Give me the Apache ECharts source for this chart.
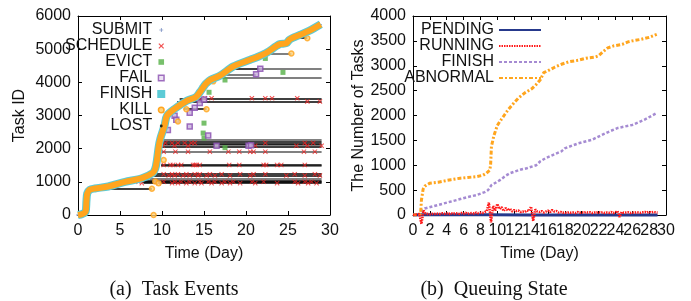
<!DOCTYPE html>
<html>
<head>
<meta charset="utf-8">
<script src="https://cdn.jsdelivr.net/npm/echarts@6/dist/echarts.min.js"></script>
<style>
  html, body { margin: 0; padding: 0; background: #fff; }
  #chart { width: 691px; height: 301px; }
</style>
</head>
<body>
<div id="chart"></div>
<script>
// ---- (a) Task Events ----
// main band: task id against submit day
const curveDay = [0, 0.5, 0.9, 1.0, 1.1, 1.4, 2, 3.6, 5.6, 7.6, 8.9, 9.2, 9.4, 9.6, 9.8, 10.3, 10.6, 11.5, 13, 14, 14.5, 15.2, 15.8, 16.9, 18.5, 20.5, 21.5, 22.5, 24, 24.8, 25.2, 26.4, 27.5, 28.9]
const curveId = [0, 30, 100, 400, 650, 760, 800, 860, 1000, 1110, 1270, 1400, 1660, 2050, 2300, 2700, 3000, 3200, 3450, 3550, 3700, 3950, 4080, 4200, 4480, 4680, 4780, 4900, 5150, 5180, 5290, 5430, 5550, 5750]

// horizontal task lifetimes: [start day, end day, task id]
const blackSegs = [
  [9.8, 29, 2200], [9.8, 29, 2160], [9.9, 29, 2060], [9.9, 29, 1510],
  [8.9, 29, 1230], [8.9, 29, 1190], [7.6, 29, 1020], [7.6, 29, 990], [7.8, 29, 960],
  [3.6, 8.8, 790], [17.5, 21.7, 4410], [26.3, 27.3, 5330], [12.6, 15.3, 3190],
  [12.1, 29, 3520], [11.8, 29, 3420]
]
const graySegs = [
  [10, 29, 2270], [9.9, 29, 2110], [9.5, 29, 1905], [9.9, 29, 1470], [8.5, 29, 1100],
  [21.7, 29, 4410], [17, 21.2, 4240], [15.5, 29, 4130], [22.9, 25.4, 4870]
]

const submitEvents = [[0.1, 0], [1.05, 500], [9.5, 1850], [14.8, 3900], [28.7, 5740]]
const scheduleEvents = [
  [9.8, 2170], [10.1, 2090], [10.4, 2170], [11.2, 2170], [11.5, 2090], [11.9, 2170], [12.7, 2170],
  [13.1, 2090], [13.5, 2170], [13.9, 2170], [21.1, 2090], [22.3, 2170], [26.0, 2090], [27.0, 2170],
  [27.3, 2090], [28.0, 2170], [29.0, 2090],
  [10.2, 1910], [11.6, 1910], [13.1, 1910], [15.7, 1910], [17.9, 1910], [19.2, 1910], [20.5, 1910],
  [20.9, 1910], [22.3, 1910], [26.9, 1910], [28.2, 1910],
  [10.2, 1510], [11.0, 1510], [11.3, 1510], [11.9, 1510], [12.3, 1510], [13.7, 1510], [13.9, 1510],
  [14.1, 1510], [14.5, 1510], [18.0, 1510], [19.2, 1510], [22.1, 1510], [22.4, 1510], [23.7, 1510],
  [24.2, 1510], [27.0, 1510],
  [10.2, 1230], [10.8, 1190], [11.2, 1230], [11.5, 1190], [11.9, 1230], [12.5, 1190], [12.9, 1230],
  [13.3, 1190], [13.9, 1230], [14.3, 1190], [14.5, 1230], [15.3, 1190], [15.7, 1230], [16.3, 1190],
  [17.1, 1230], [18.1, 1190], [19.3, 1230], [20.5, 1190], [20.9, 1230], [22.3, 1230], [24.8, 1190],
  [25.8, 1230], [27.0, 1190], [28.2, 1230], [28.8, 1190],
  [7.2, 1000], [7.6, 960], [9.2, 1000], [9.6, 960], [10.2, 1000], [11.2, 960], [11.5, 1000],
  [11.9, 960], [12.3, 1000], [12.9, 960], [13.3, 1000], [13.9, 960], [14.5, 1000], [14.7, 960],
  [15.5, 1000], [15.9, 960], [16.3, 1000], [17.1, 960], [17.5, 1000], [18.1, 960], [18.5, 1000],
  [19.3, 960], [20.7, 1000], [21.1, 960], [22.1, 1000], [23.7, 960], [25.8, 1000], [26.2, 960],
  [27.0, 1000], [27.4, 960], [27.8, 1000], [28.4, 960],
  [14.5, 3480], [15.1, 3520], [15.9, 3520], [20.7, 3520], [22.3, 3520], [23.1, 3520], [26.1, 3520],
  [27.3, 3420], [28.8, 3420]
]
const evictEvents = [[22.3, 4720], [24.4, 4300], [17.5, 4070], [15.6, 3700], [15.0, 2770], [14.9, 2470], [15.0, 2320], [17.5, 2030]]
const failEvents = [
  [21.7, 4410], [21.2, 4240], [13.3, 3080], [13.9, 3230], [14.5, 3380], [15.0, 3480], [13.3, 2670],
  [11.5, 2990], [11.7, 2870], [10.7, 2560], [15.5, 2400], [16.5, 2090], [20.3, 2090], [20.6, 2100]
]
const killEvents = [
  [8.8, 790], [9.0, 0], [9.2, 1010], [9.6, 960], [10.2, 1660], [11.9, 2820], [12.9, 3190],
  [15.3, 3190], [16.1, 4030], [25.4, 4870], [27.3, 5330]
]
const lostEvents = [[24.0, 5140]]

// ---- (b) Queuing State ----
// day labels split in two sets so neighbouring labels never hide each other
const dayLabelsB = [0, 4, 8, 12, 16, 20, 24, 28]
const dayLabelsBAlt = [2, 6, 10, 14, 18, 22, 26, 30]
const pendingState = [[0, 0], [1, 4], [9, 3], [14, 2], [29, 0]]
// running tasks sampled every 0.25 day from day 0
const runningVals = [
  0, 5, 10, 20, -180, 90, 30, 20, 15, 25, 20, 30, 25, 20, 35, 25,
  30, 20, 40, 25, 35, 30, 25, 40, 30, 45, 25, 35, 40, 30, 50, 35,
  45, 40, 60, 80, 250, -150, 180, 90, 220, 120, 160, 80, 140, 90, 130, 70,
  100, 80, 90, 60, 70, 60, 90, 80, 170, -120, 110, 70, 60, 80, 50, 70,
  90, 60, 100, 70, 80, 50, 60, 45, 50, 40, 55, 45, 50, 40, 60, 45,
  55, 45, 60, 50, 55, 40, 50, 45, 60, 45, 55, 40, 50, 45, 60, 40,
  55, 80, -40, 60, 45, 50, 55, 40, 50, 45, 55, 50, 45, 55, 60, 50,
  65, 50, 60, 55, 50
]
const finishState = [
  [0, 0], [0.9, 10], [1.0, 70], [1.4, 130], [2.5, 180], [3.6, 230], [4.5, 270], [5.6, 320],
  [6.5, 360], [7.5, 400], [8.5, 460], [8.9, 500], [9.3, 600], [10.3, 700], [11, 790], [11.5, 840],
  [12.7, 910], [13.5, 940], [14.6, 1000], [15.1, 1080], [15.7, 1140], [16.5, 1200], [17.6, 1280],
  [18, 1340], [19.6, 1440], [21.2, 1510], [22.4, 1610], [23.3, 1680], [24.3, 1750], [26, 1810],
  [27.5, 1920], [28.9, 2050]
]
const abnormalState = [
  [0, 0], [0.5, 0], [0.9, 20], [1.0, 300], [1.2, 520], [1.4, 580], [2, 640], [3, 660], [3.6, 680],
  [4.5, 710], [5.6, 740], [6.5, 755], [7.5, 770], [8.3, 800], [8.7, 840], [9.1, 900], [9.2, 1000],
  [9.3, 1380], [9.6, 1600], [10.0, 1800], [10.3, 1880], [10.8, 2000], [11.3, 2120], [12, 2260],
  [12.5, 2350], [13.3, 2460], [14.1, 2540], [14.6, 2620], [15.1, 2720], [15.5, 2860], [16, 2900],
  [16.8, 2970], [17.6, 3030], [18.5, 3080], [19.6, 3110], [20.5, 3150], [21.5, 3170], [22, 3200],
  [22.6, 3290], [23.1, 3360], [23.8, 3400], [24.8, 3430], [25.5, 3480], [26, 3500], [27, 3530],
  [28, 3570], [28.9, 3630]
]

const chart = echarts.init(document.getElementById('chart'))

const plusPath = 'path://M4,0H6V4H10V6H6V10H4V6H0V4H4Z'
const crossPath = 'path://M0,1.4L1.4,0L5,3.6L8.6,0L10,1.4L6.4,5L10,8.6L8.6,10L5,6.4L1.4,10L0,8.6L3.6,5Z'
// legend-only icons padded inside a 10x10 box so they draw smaller
const smallPlus = 'path://M0,0M10,10M4.6,2.5H5.4V4.6H7.5V5.4H5.4V7.5H4.6V5.4H2.5V4.6H4.6Z'
const smallDot = 'path://M0,0M10,10M3.2,5A1.8,1.8,0,1,0,6.8,5A1.8,1.8,0,1,0,3.2,5Z'
const smallCross = 'path://M0,0M10,10M1.5,2.5L2.5,1.5L5,4L7.5,1.5L8.5,2.5L6,5L8.5,7.5L7.5,8.5L5,6L2.5,8.5L1.5,7.5L4,5Z'
const smallSquare = 'path://M0,0M10,10M1.5,1.5H8.5V8.5H1.5Z'
const smallRing = 'path://M0,0M10,10M1.5,5A3.5,3.5,0,1,0,8.5,5A3.5,3.5,0,1,0,1.5,5Z'
const sans = 'Liberation Sans'
const axisFont = { fontFamily: sans, fontSize: 16, color: '#111' }
const plain = v => String(v)
const curve = curveDay.map((d, i) => [d, curveId[i]])
const segs = list => list.map(s => ({ coords: [[s[0], s[2]], [s[1], s[2]]] }))
const running = runningVals.map((v, i) => [i * 0.25, v])

const baseAxis = {
  type: 'value',
  axisLine: { show: true, onZero: false, lineStyle: { color: '#000', width: 1 } },
  axisTick: { show: true, inside: true, length: 4, lineStyle: { color: '#000' } },
  splitLine: { show: false }
}
const mirror = { axisLabel: { show: false } }
const labels = { ...axisFont, formatter: plain, showMinLabel: true, showMaxLabel: true, hideOverlap: false }

const option = {
  animation: false,
  grid: [
    { left: 78, top: 16, width: 252, height: 199 },
    { left: 413, top: 16, width: 253, height: 199 }
  ],
  xAxis: [
    { ...baseAxis, gridIndex: 0, min: 0, max: 30, interval: 5, axisLabel: { ...labels, margin: 8 },
      name: 'Time (Day)', nameLocation: 'middle', nameGap: 31, nameTextStyle: axisFont },
    { ...baseAxis, ...mirror, gridIndex: 0, position: 'top', min: 0, max: 30, interval: 5 },
    { ...baseAxis, gridIndex: 1, min: 0, max: 30, interval: 2,
      axisLabel: { ...labels, margin: 8, customValues: dayLabelsB },
      name: 'Time (Day)', nameLocation: 'middle', nameGap: 31, nameTextStyle: axisFont },
    { ...baseAxis, ...mirror, gridIndex: 1, position: 'top', min: 0, max: 30, interval: 2 },
    { type: 'value', gridIndex: 1, position: 'bottom', min: 0, max: 30,
      axisLine: { show: false }, axisTick: { show: false }, splitLine: { show: false },
      axisLabel: { ...labels, margin: 8, customValues: dayLabelsBAlt } }
  ],
  yAxis: [
    { ...baseAxis, gridIndex: 0, min: 0, max: 6000, interval: 1000, axisLabel: { ...labels, margin: 7 },
      name: 'Task ID', nameLocation: 'middle', nameGap: 50, nameRotate: 90, nameTextStyle: axisFont },
    { ...baseAxis, ...mirror, gridIndex: 0, position: 'right', min: 0, max: 6000, interval: 1000 },
    { ...baseAxis, gridIndex: 1, min: 0, max: 4000, interval: 500, axisLabel: { ...labels, margin: 7 },
      name: 'The Number of Tasks', nameLocation: 'middle', nameGap: 46, nameRotate: 90, nameTextStyle: axisFont },
    { ...baseAxis, ...mirror, gridIndex: 1, position: 'right', min: 0, max: 4000, interval: 500 }
  ],
  legend: [
    {
      orient: 'vertical', align: 'right', right: 525, top: 22, padding: 0,
      itemWidth: 8, itemHeight: 8, itemGap: 0,
      textStyle: { fontFamily: sans, fontSize: 16, lineHeight: 14, color: '#111' },
      selectedMode: false,
      data: [
        { name: 'SUBMIT', icon: smallPlus, itemStyle: { color: '#3050a0' } },
        { name: 'SCHEDULE', icon: smallCross, itemStyle: { color: '#ee2222' } },
        { name: 'EVICT', icon: smallSquare, itemStyle: { color: '#55b046' } },
        { name: 'FAIL', icon: smallSquare, itemStyle: { color: '#e8dcf0', borderColor: '#8a4fb0', borderWidth: 1.5 } },
        { name: 'FINISH', icon: 'rect', itemStyle: { color: '#5ccbd6' } },
        { name: 'KILL', icon: smallRing, itemStyle: { color: '#ffd27a', borderColor: '#ffa51e', borderWidth: 1.5 } },
        { name: 'LOST', icon: smallDot, itemStyle: { color: '#000' } }
      ]
    },
    {
      orient: 'vertical', align: 'right', right: 149, top: 22, padding: 0,
      itemWidth: 42, itemHeight: 8, itemGap: 0,
      textStyle: { fontFamily: sans, fontSize: 16, lineHeight: 14, color: '#111' },
      itemStyle: { color: 'rgba(0,0,0,0)', borderColor: 'rgba(0,0,0,0)', borderWidth: 0, opacity: 0 },
      selectedMode: false,
      formatter: n => n.trim(),
      data: ['PENDING', 'RUNNING', 'FINISH ', 'ABNORMAL']
    }
  ],
  graphic: [
    { type: 'text', x: 174, y: 290, style: { text: '(a)  Task Events', font: '20px "Liberation Serif"', fill: '#111', align: 'center', verticalAlign: 'middle' } },
    { type: 'text', x: 494, y: 290, style: { text: '(b)  Queuing State', font: '20px "Liberation Serif"', fill: '#111', align: 'center', verticalAlign: 'middle' } }
  ],
  series: [
    { type: 'lines', coordinateSystem: 'cartesian2d', xAxisIndex: 0, yAxisIndex: 0, silent: true,
      lineStyle: { color: '#808080', width: 2, opacity: 1 }, data: segs(graySegs) },
    { type: 'lines', coordinateSystem: 'cartesian2d', xAxisIndex: 0, yAxisIndex: 0, silent: true,
      lineStyle: { color: '#000', width: 1.6, opacity: 1 }, data: segs(blackSegs) },
    { name: 'SUBMIT', type: 'scatter', xAxisIndex: 0, yAxisIndex: 0, symbol: plusPath, symbolSize: 5,
      itemStyle: { color: '#3050a0' }, data: submitEvents },
    { name: 'FINISH', type: 'line', xAxisIndex: 0, yAxisIndex: 0, symbol: 'none', smooth: 0.3,
      lineStyle: { color: '#5ccbd6', width: 8 }, itemStyle: { color: '#5ccbd6' }, data: curve },
    { name: 'KILL', type: 'line', xAxisIndex: 0, yAxisIndex: 0, symbol: 'none', smooth: 0.3,
      lineStyle: { color: '#ffa51e', width: 6 }, itemStyle: { color: '#ffa51e' }, data: curve },
    { name: 'SCHEDULE', type: 'scatter', xAxisIndex: 0, yAxisIndex: 0, symbol: crossPath, symbolSize: 5,
      itemStyle: { color: '#ee2222' }, data: scheduleEvents },
    { name: 'EVICT', type: 'scatter', xAxisIndex: 0, yAxisIndex: 0, symbol: 'rect', symbolSize: 5,
      itemStyle: { color: '#55b046' }, data: evictEvents },
    { name: 'FAIL', type: 'scatter', xAxisIndex: 0, yAxisIndex: 0, symbol: 'rect', symbolSize: 5,
      itemStyle: { color: '#c8b0dc', borderColor: '#8a4fb0', borderWidth: 1.5 }, data: failEvents },
    { name: 'KILL', type: 'scatter', xAxisIndex: 0, yAxisIndex: 0, symbol: 'circle', symbolSize: 5,
      itemStyle: { color: '#ffd27a', borderColor: '#ffa51e', borderWidth: 1.5 }, data: killEvents },
    { name: 'LOST', type: 'scatter', xAxisIndex: 0, yAxisIndex: 0, symbol: 'circle', symbolSize: 4,
      itemStyle: { color: '#000' }, data: lostEvents },

    { name: 'PENDING', type: 'line', xAxisIndex: 2, yAxisIndex: 2, symbol: 'none', clip: false,
      lineStyle: { color: '#26398c', width: 3 }, itemStyle: { color: '#26398c' }, data: pendingState },
    { name: 'FINISH ', type: 'line', xAxisIndex: 2, yAxisIndex: 2, symbol: 'none',
      lineStyle: { color: '#a58bd2', width: 2.5, type: [3, 2] }, itemStyle: { color: '#a58bd2' }, data: finishState },
    { name: 'ABNORMAL', type: 'line', xAxisIndex: 2, yAxisIndex: 2, symbol: 'none',
      lineStyle: { color: '#ffa51e', width: 3, type: [4, 2, 2, 2] }, itemStyle: { color: '#ffa51e' }, data: abnormalState },
    { name: 'RUNNING', type: 'line', xAxisIndex: 2, yAxisIndex: 2, symbol: 'none', clip: false,
      lineStyle: { color: '#ff1a1a', width: 2.5, type: [1.5, 1] }, itemStyle: { color: '#ff1a1a' }, data: running }
  ]
}
chart.setOption(option)
</script>
</body>
</html>
